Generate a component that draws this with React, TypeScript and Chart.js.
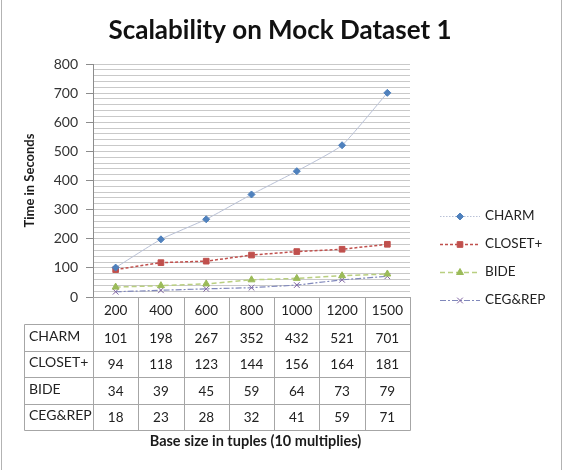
import React, { useEffect, useRef } from 'react';
import { Chart, registerables } from 'chart.js';
import { drawPoint } from 'chart.js/helpers';

Chart.register(...registerables);

// Base sizes (x categories) and measured times per algorithm
const baseSizes = ['200', '400', '600', '800', '1000', '1200', '1500'];
const charmTimes = [101, 198, 267, 352, 432, 521, 701];
const closetTimes = [94, 118, 123, 144, 156, 164, 181];
const bideTimes = [34, 39, 45, 59, 64, 73, 79];
const cegRepTimes = [18, 23, 28, 32, 41, 59, 71];
const seriesNames = ['CHARM', 'CLOSET+', 'BIDE', 'CEG&REP'];
const yTickLabels = [0, 100, 200, 300, 400, 500, 600, 700, 800];
const chartTitle = 'Scalability on Mock Dataset 1';
const xCaption = 'Base size in tuples (10 multiplies)';

const FONT = 'Lato, "Open Sans", "DejaVu Sans", sans-serif';
const GRID = '#c9c9c9';
const AXIS = '#8c8c8c';
const TABLE_LINE = '#a6a6a6';

const seriesStyles = [
  { line: '#b9c1d6', width: 1, dash: [] as number[], point: 'rectRot', color: '#4f81bd', radius: 3.5, tension: 0.15 },
  { line: '#c0504d', width: 1.5, dash: [3, 2], point: 'rect', color: '#c0504d', radius: 4, tension: 0 },
  { line: '#b9cf80', width: 1.5, dash: [5, 3], point: 'triangle', color: '#9bbb59', radius: 4, tension: 0 },
  { line: '#8088bb', width: 1.2, dash: [6, 2, 2, 2], point: 'crossRot', color: '#8064a2', radius: 4, tension: 0 },
];

// Draws the chart frame and title, the data table under the x axis,
// the axis caption and the legend on the right.
const tableAndLegend = {
  id: 'tableAndLegend',
  beforeDraw(chart: any) {
    const { ctx, width, height } = chart;
    ctx.save();
    ctx.fillStyle = '#ffffff';
    ctx.fillRect(0, 0, width, height);
    ctx.strokeStyle = '#b3b3b3';
    ctx.lineWidth = 1;
    ctx.beginPath();
    ctx.moveTo(1.5, 0);
    ctx.lineTo(1.5, height);
    ctx.moveTo(561.5, 0);
    ctx.lineTo(561.5, height);
    ctx.stroke();

    ctx.fillStyle = '#111111';
    ctx.font = `bold 26px ${FONT}`;
    ctx.textAlign = 'center';
    ctx.textBaseline = 'middle';
    ctx.fillText(chartTitle, 280, 31);
    ctx.restore();
  },
  afterDraw(chart: any) {
    const { ctx, chartArea: area } = chart;
    const xScale = chart.scales.x;
    const n = chart.data.labels.length;
    const colW = (area.right - area.left) / n;
    const headTop = area.bottom;
    const headH = 27;
    const rowH = 26.5;
    const labelLeft = 24;
    const datasets = chart.data.datasets;
    const bodyTop = headTop + headH;
    const tableBottom = bodyTop + datasets.length * rowH;
    const px = (v: number) => Math.round(v) + 0.5;

    ctx.save();
    ctx.strokeStyle = TABLE_LINE;
    ctx.lineWidth = 1;
    ctx.setLineDash([]);
    ctx.beginPath();
    for (let k = 0; k <= n; k++) {
      const X = px(area.left + k * colW);
      ctx.moveTo(X, headTop);
      ctx.lineTo(X, px(tableBottom));
    }
    ctx.moveTo(px(labelLeft), px(bodyTop));
    ctx.lineTo(px(labelLeft), px(tableBottom));
    ctx.moveTo(px(area.left), px(headTop));
    ctx.lineTo(px(area.right), px(headTop));
    for (let r = 0; r <= datasets.length; r++) {
      const Y = px(bodyTop + r * rowH);
      ctx.moveTo(px(labelLeft), Y);
      ctx.lineTo(px(area.right), Y);
    }
    ctx.stroke();

    ctx.fillStyle = '#222222';
    ctx.textBaseline = 'middle';
    datasets.forEach((ds: any, r: number) => {
      const cy = bodyTop + r * rowH + rowH / 2;
      ctx.font = `14px ${FONT}`;
      ctx.textAlign = 'left';
      ctx.fillText(ds.label, labelLeft + 5, cy - 1);
      ctx.font = `13.5px ${FONT}`;
      ctx.textAlign = 'center';
      ds.data.forEach((v: number, i: number) => {
        ctx.fillText(String(v), xScale.getPixelForValue(i), cy + 1);
      });
    });

    // x axis caption under the table
    ctx.font = `bold 14.5px ${FONT}`;
    ctx.textAlign = 'center';
    ctx.fillStyle = '#1a1a1a';
    ctx.fillText(xCaption, (area.left + area.right) / 2 + 4, tableBottom + 11);

    // legend
    const legendX = 440;
    const legendTop = 216;
    const legendGap = 28;
    datasets.forEach((ds: any, i: number) => {
      const y = legendTop + i * legendGap;
      ctx.strokeStyle = ds.borderColor;
      ctx.lineWidth = ds.borderWidth;
      ctx.setLineDash(ds.borderDash && ds.borderDash.length ? ds.borderDash : [1.5, 1.5]);
      ctx.beginPath();
      ctx.moveTo(legendX, y + 0.5);
      ctx.lineTo(legendX + 40, y + 0.5);
      ctx.stroke();
      ctx.setLineDash([]);
      ctx.fillStyle = ds.pointBackgroundColor;
      ctx.strokeStyle = ds.pointBorderColor;
      ctx.lineWidth = 1;
      drawPoint(ctx, { pointStyle: ds.pointStyle, radius: ds.pointRadius, rotation: 0, borderWidth: 1 } as any, legendX + 20, y + 0.5);
      ctx.fillStyle = '#222222';
      ctx.font = `13.5px ${FONT}`;
      ctx.textAlign = 'left';
      ctx.textBaseline = 'middle';
      ctx.fillText(ds.label, legendX + 45, y);
    });
    ctx.restore();
  },
};

export default function App() {
  const canvasRef = useRef<HTMLCanvasElement>(null);

  useEffect(() => {
    const values = [charmTimes, closetTimes, bideTimes, cegRepTimes];
    const datasets = values.map((data, i) => {
      const s = seriesStyles[i];
      return {
        label: seriesNames[i],
        data,
        borderColor: s.line,
        borderWidth: s.width,
        borderDash: s.dash,
        pointStyle: s.point,
        pointRadius: s.radius,
        pointBackgroundColor: s.color,
        pointBorderColor: s.color,
        pointBorderWidth: 1,
        tension: s.tension,
        fill: false,
      };
    });

    const chart = new Chart(canvasRef.current as HTMLCanvasElement, {
      type: 'line',
      data: { labels: baseSizes, datasets: datasets as any },
      options: {
        animation: false,
        responsive: false,
        devicePixelRatio: 1,
        layout: { padding: { left: 0, right: 157, top: 64, bottom: 0 } },
        plugins: {
          legend: { display: false },
          tooltip: { enabled: false },
          title: { display: false },
        },
        scales: {
          x: {
            offset: true,
            grid: { display: false, drawTicks: false },
            border: { color: AXIS },
            ticks: { padding: 6, font: { family: FONT, size: 13.5 }, color: '#222222', maxRotation: 0, autoSkip: false },
            afterFit: (s: any) => { s.height = 173; },
          },
          y: {
            min: 0,
            max: 800,
            ticks: {
              stepSize: 20,
              autoSkip: false,
              padding: 8,
              font: { family: FONT, size: 14 },
              color: '#333333',
              callback: (v: any) => (yTickLabels.includes(Number(v)) ? String(v) : ''),
            },
            grid: {
              color: GRID,
              tickLength: 7,
              tickColor: (c: any) => (c.tick && yTickLabels.includes(c.tick.value) ? AXIS : 'rgba(0,0,0,0)'),
            },
            border: { color: AXIS },
            title: {
              display: true,
              text: 'Time in Seconds',
              font: { family: FONT, size: 13, weight: 'bold' },
              color: '#1a1a1a',
              padding: { top: 22, bottom: 0 },
            },
            afterFit: (s: any) => { s.width = 93; },
          },
        },
      } as any,
      plugins: [tableAndLegend],
    });
    return () => chart.destroy();
  }, []);

  return (
    <div style={{ position: 'absolute', left: 0, top: 0, width: 567, height: 470 }}>
      <canvas ref={canvasRef} width={567} height={470} style={{ display: 'block', width: 567, height: 470 }} />
    </div>
  );
}
